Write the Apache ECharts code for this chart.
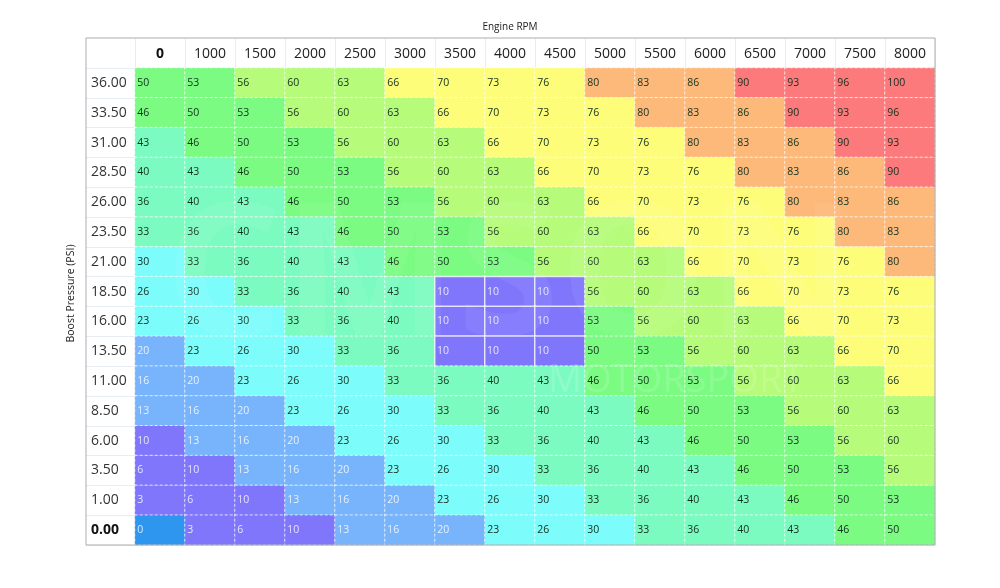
<!DOCTYPE html>
<html>
	<head>
		<meta charset="UTF-8">
		<title>Boost vs RPM map</title>
		<style>
			html, body { margin: 0; padding: 0; background: #fff; }
		</style>
	</head>
	<body>
		<div id="chart" style="width: 1000px;height: 588px;"></div>
		<script src="https://cdn.jsdelivr.net/npm/echarts@6/dist/echarts.min.js"></script>
		<script type="text/javascript">
			var rpm = ['0', '1000', '1500', '2000', '2500', '3000', '3500', '4000', '4500', '5000', '5500', '6000', '6500', '7000', '7500', '8000'];
			var boost = ['36.00', '33.50', '31.00', '28.50', '26.00', '23.50', '21.00', '18.50', '16.00', '13.50', '11.00', '8.50', '6.00', '3.50', '1.00', '0.00'];
			// one row per boost value, top row first
			var rows = [
				[50, 53, 56, 60, 63, 66, 70, 73, 76, 80, 83, 86, 90, 93, 96, 100],
				[46, 50, 53, 56, 60, 63, 66, 70, 73, 76, 80, 83, 86, 90, 93, 96],
				[43, 46, 50, 53, 56, 60, 63, 66, 70, 73, 76, 80, 83, 86, 90, 93],
				[40, 43, 46, 50, 53, 56, 60, 63, 66, 70, 73, 76, 80, 83, 86, 90],
				[36, 40, 43, 46, 50, 53, 56, 60, 63, 66, 70, 73, 76, 80, 83, 86],
				[33, 36, 40, 43, 46, 50, 53, 56, 60, 63, 66, 70, 73, 76, 80, 83],
				[30, 33, 36, 40, 43, 46, 50, 53, 56, 60, 63, 66, 70, 73, 76, 80],
				[26, 30, 33, 36, 40, 43, 10, 10, 10, 56, 60, 63, 66, 70, 73, 76],
				[23, 26, 30, 33, 36, 40, 10, 10, 10, 53, 56, 60, 63, 66, 70, 73],
				[20, 23, 26, 30, 33, 36, 10, 10, 10, 50, 53, 56, 60, 63, 66, 70],
				[16, 20, 23, 26, 30, 33, 36, 40, 43, 46, 50, 53, 56, 60, 63, 66],
				[13, 16, 20, 23, 26, 30, 33, 36, 40, 43, 46, 50, 53, 56, 60, 63],
				[10, 13, 16, 20, 23, 26, 30, 33, 36, 40, 43, 46, 50, 53, 56, 60],
				[6, 10, 13, 16, 20, 23, 26, 30, 33, 36, 40, 43, 46, 50, 53, 56],
				[3, 6, 10, 13, 16, 20, 23, 26, 30, 33, 36, 40, 43, 46, 50, 53],
				[0, 3, 6, 10, 13, 16, 20, 23, 26, 30, 33, 36, 40, 43, 46, 50]
			];
			// the selected block in the middle of the table
			var selectedRpm = ['3500', '4000', '4500'];
			var selectedBoost = ['18.50', '16.00', '13.50'];

			var fontName = '"Open Sans", "Noto Sans", sans-serif';

			var cells = [];
			rows.forEach(function(row, r) {
				row.forEach(function(v, c) {
					var item = {
						value: [c, r, v],
						label: { color: v <= 20 ? 'rgba(255,255,255,.8)' : '#12301f' }
					};
					if (selectedRpm.indexOf(rpm[c]) >= 0 && selectedBoost.indexOf(boost[r]) >= 0) {
						item.itemStyle = { borderType: 'solid', borderColor: 'rgba(255,255,255,.75)', borderWidth: 1.5 };
					}
					cells.push(item);
				});
			});

			var my_echarts = echarts.init(document.getElementById('chart'));
			var option = {
				backgroundColor: '#fff',
				animation: false,
				textStyle: { fontFamily: fontName },
				grid: {
					left: 135,
					right: 65,
					top: 68,
					bottom: 43,
					show: false
				},
				xAxis: {
					type: 'category',
					position: 'top',
					data: rpm,
					name: 'Engine RPM',
					nameLocation: 'middle',
					nameGap: 36,
					nameTextStyle: { fontSize: 10, color: '#222', padding: [0, 50, 0, 0] },
					axisLine: { show: false },
					axisTick: { show: true, length: 30, lineStyle: { color: '#e8edf3' } },
					axisLabel: {
						interval: 0,
						margin: 7,
						fontSize: 14,
						color: '#222',
						formatter: function(v) { return v === '0' ? '{b|' + v + '}' : v; },
						rich: { b: { fontWeight: 'bold', fontSize: 14, color: '#111' } }
					},
					splitLine: { show: false }
				},
				yAxis: {
					type: 'category',
					inverse: true,
					data: boost,
					name: 'Boost Pressure (PSI)',
					nameLocation: 'middle',
					nameGap: 58,
					nameTextStyle: { fontSize: 10.5, color: '#222', padding: [0, 0, 0, 26] },
					axisLine: { show: false },
					axisTick: { show: true, length: 49, lineStyle: { color: '#e8edf3' } },
					axisLabel: {
						interval: 0,
						align: 'left',
						margin: 44,
						fontSize: 14,
						color: '#333',
						formatter: function(v) { return v === '0.00' ? '{b|' + v + '}' : v; },
						rich: { b: { fontWeight: 'bold', fontSize: 14, color: '#111' } }
					},
					splitLine: { show: false }
				},
				visualMap: {
					show: false,
					type: 'piecewise',
					dimension: 2,
					min: -1,
					max: 100,
					pieces: [
						{ min: -1, max: 0.5, color: '#2f96f0' },
						{ min: 1, max: 10, color: '#7f76fc' },
						{ min: 11, max: 20, color: '#78b4fb' },
						{ min: 21, max: 31, color: '#7dfcfc' },
						{ min: 32, max: 44, color: '#7cfbc0' },
						{ min: 45, max: 54, color: '#7bfb82' },
						{ min: 55, max: 64, color: '#b6fb7a' },
						{ min: 65, max: 78, color: '#fdfd7a' },
						{ min: 79, max: 88, color: '#fdb97a' },
						{ min: 89, max: 100, color: '#fd7a7c' }
					]
				},
				series: [{
					name: 'Map',
					type: 'heatmap',
					data: cells,
					silent: true,
					itemStyle: {
						borderColor: 'rgba(255,255,255,.75)',
						borderWidth: 1,
						borderType: [3, 2]
					},
					label: {
						show: true,
						position: 'insideLeft',
						distance: 3,
						fontSize: 10.5,
						formatter: function(p) { return String(p.value[2]); }
					}
				}],
				graphic: [
					{
						type: 'rect',
						z: 20,
						shape: { x: 86, y: 38, width: 849, height: 507 },
						style: { fill: 'none', stroke: '#a9acae', lineWidth: 1 }
					},
					{
						type: 'text',
						z: 15,
						silent: true,
						left: 165,
						top: 190,
						style: {
							text: 'CMSON',
							fontFamily: fontName,
							fontSize: 185,
							fontWeight: 'bold',
							fill: 'rgba(255,255,255,.06)'
						}
					},
					{
						type: 'text',
						z: 15,
						silent: true,
						left: 548,
						top: 362,
						style: {
							text: 'MOTORSPORT',
							fontFamily: fontName,
							fontSize: 38,
							fill: 'rgba(255,255,255,.14)'
						}
					}
				]
			};
			my_echarts.setOption(option);
		</script>
	</body>
</html>
